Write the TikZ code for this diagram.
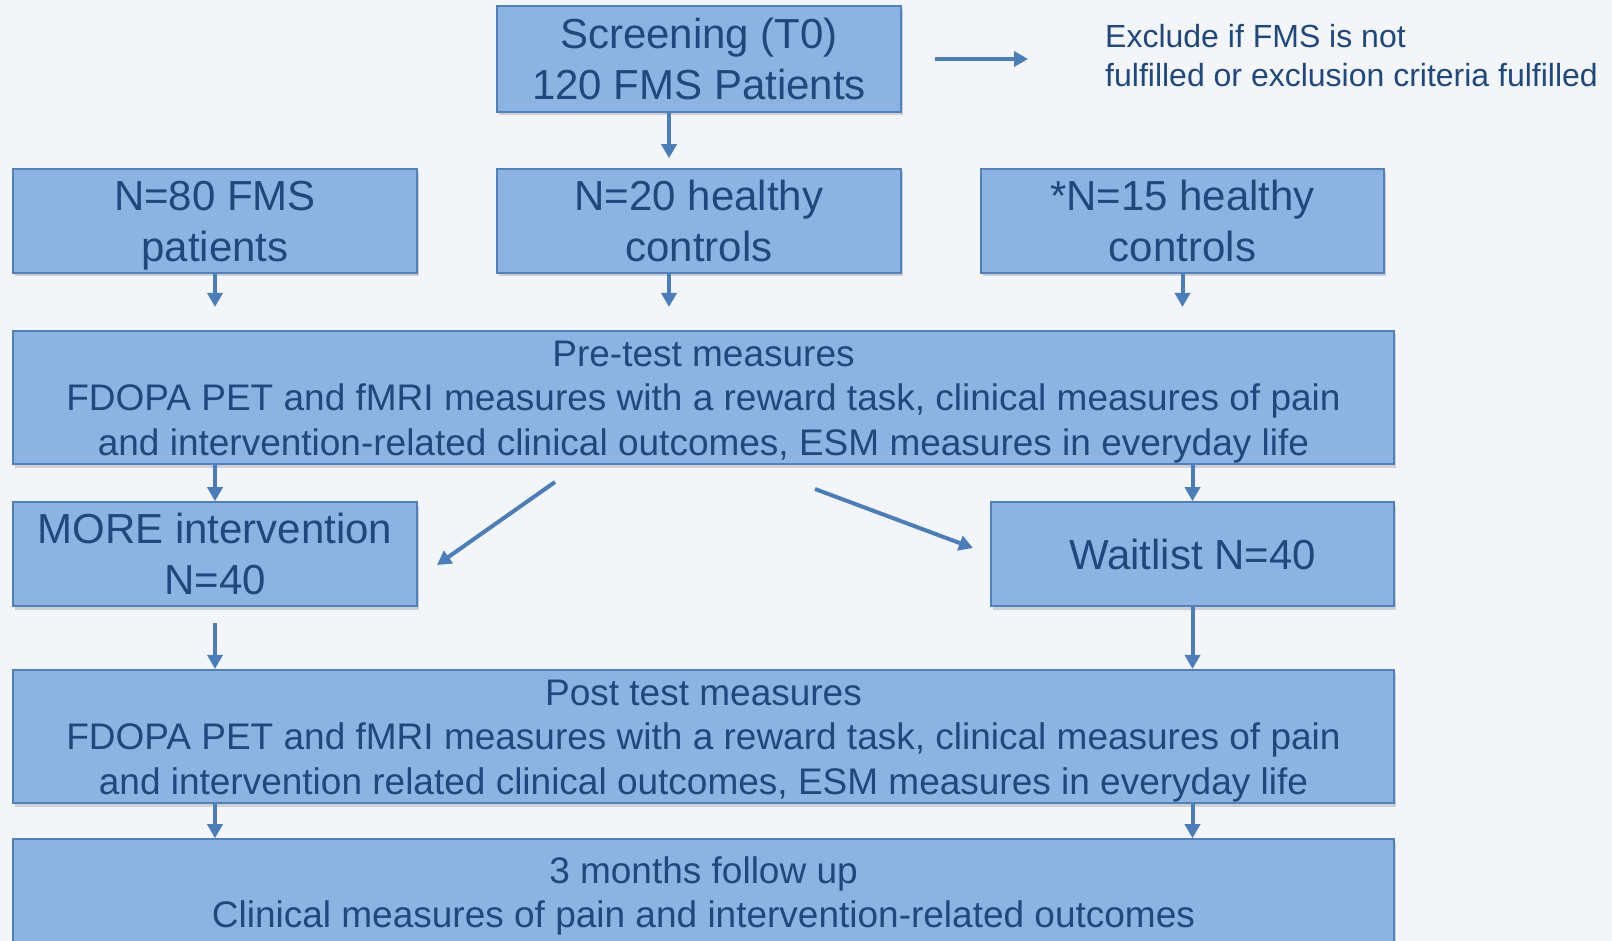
\documentclass[tikz,border=0pt]{standalone}
\usepackage{fontspec}
\setmainfont{Liberation Sans}
\usetikzlibrary{arrows.meta,shadows,calc}
\definecolor{bgc}{HTML}{F3F5F9}
\definecolor{boxfill}{HTML}{8DB3E2}
\definecolor{boxline}{HTML}{4F81BD}
\definecolor{txtc}{HTML}{1F497D}
\definecolor{arrc}{HTML}{4A7EBB}
\newcommand\fsbig{\fontsize{42}{51}\selectfont}
\newcommand\fsmid{\fontsize{37}{44.5}\selectfont}
\newcommand\fssmall{\fontsize{32}{39}\selectfont}
\newcommand\strbig{\rule[-10.5pt]{0pt}{51pt}}
\newcommand\strmid{\rule[-9pt]{0pt}{44.5pt}}
\newcommand\strsm{\rule[-8pt]{0pt}{39pt}}
\begin{document}
\begin{tikzpicture}[x=1pt,y=-1pt,
  box/.style={draw=boxline, line width=1.6pt, fill=boxfill, text=txtc, align=center, inner sep=0pt,
    drop shadow={opacity=0.32, shadow xshift=2pt, shadow yshift=-3.5pt}},
  conn/.style={draw=arrc, line width=4pt, -{Triangle[width=15pt,length=14pt]}}]
\useasboundingbox (0,0) rectangle (1612,941);
\clip (0,0) rectangle (1612,941);
\fill[bgc] (0,0) rectangle (1612,941);

\node[box, minimum width=404pt, minimum height=106pt, font=\fsbig] (scr) at (699,59) {\strbig Screening (T0)\\\strbig 120 FMS Patients};
\node[text=txtc, align=left, anchor=west, inner sep=0pt, font=\fssmall] (excl) at (1105,56) {\strsm Exclude if FMS is not\\\strsm fulfilled or exclusion criteria fulfilled};

\node[box, minimum width=404pt, minimum height=104pt, font=\fsbig] (b80) at (215,221) {\strbig N=80 FMS\\\strbig patients};
\node[box, minimum width=404pt, minimum height=104pt, font=\fsbig] (b20) at (699,221) {\strbig N=20 healthy\\\strbig controls};
\node[box, minimum width=403pt, minimum height=104pt, font=\fsbig] (b15) at (1182.5,221) {\strbig *N=15 healthy\\\strbig controls};

\node[box, minimum width=1381pt, minimum height=133pt, font=\fsmid] (pre) at (703.5,397.5) {\strmid Pre-test measures\\\strmid FDOPA PET and fMRI measures with a reward task, clinical measures of pain\\\strmid and intervention-related clinical outcomes, ESM measures in everyday life};

\node[box, minimum width=404pt, minimum height=104pt, font=\fsbig] (more) at (215,554) {\strbig MORE intervention\\\strbig N=40};
\node[box, minimum width=403pt, minimum height=104pt, font=\fsbig] (wait) at (1192.5,554) {\strbig Waitlist N=40};

\node[box, minimum width=1381pt, minimum height=133pt, font=\fsmid] (post) at (703.5,736.5) {\strmid Post test measures\\\strmid FDOPA PET and fMRI measures with a reward task, clinical measures of pain\\\strmid and intervention related clinical outcomes, ESM measures in everyday life};

\node[box, minimum width=1381pt, minimum height=106pt, font=\fsmid] (fol) at (703.5,892) {\strmid 3 months follow up\\\strmid Clinical measures of pain and intervention-related outcomes};

\coordinate (exA) at (935,59);
\coordinate (exB) at (1028,59);
\coordinate (dLs) at (555,482);
\coordinate (dLe) at (437,565);
\coordinate (dRs) at (815,489);
\coordinate (dRe) at (973,548);

\draw[conn] (exA) -- (exB);
\draw[conn, shorten >=10pt] ($(scr.south)+(-30,0)$) -- ($(b20.north)+(-30,0)$);
\draw[conn, shorten >=23pt] (b80.south) -- (b80.south |- pre.north);
\draw[conn, shorten >=23pt] ($(b20.south)+(-30,0)$) -- ($(b20.south |- pre.north)+(-30,0)$);
\draw[conn, shorten >=23pt] (b15.south) -- (b15.south |- pre.north);
\draw[conn] (more.north |- pre.south) -- (more.north);
\draw[conn] (wait.north |- pre.south) -- (wait.north);
\draw[conn] (dLs) -- (dLe);
\draw[conn] (dRs) -- (dRe);
\draw[conn, shorten <=16pt] (more.south) -- (more.south |- post.north);
\draw[conn] (wait.south) -- (wait.south |- post.north);
\draw[conn] (more.south |- post.south) -- (more.south |- fol.north);
\draw[conn] (wait.south |- post.south) -- (wait.south |- fol.north);
\end{tikzpicture}
\end{document}
